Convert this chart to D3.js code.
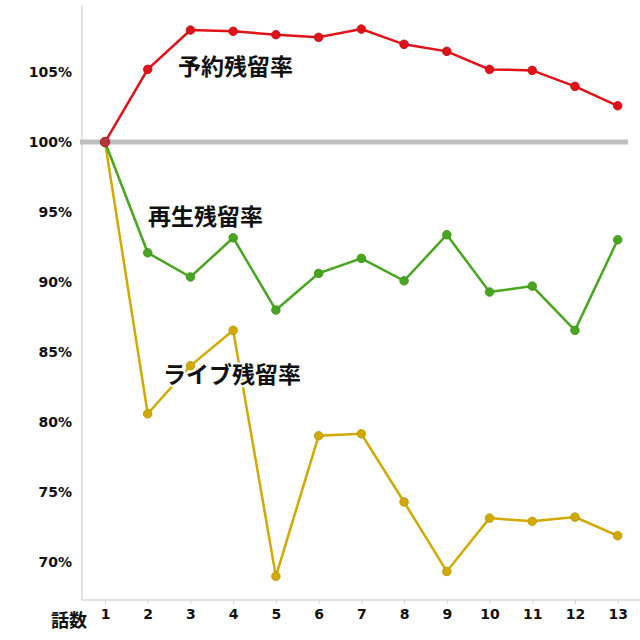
<!DOCTYPE html>
<html><head><meta charset="utf-8">
<script src="https://cdn.jsdelivr.net/npm/d3@7"></script>
<style>body{margin:0;background:#fff}svg{display:block}</style>
</head><body>
<script>
const episodes = [1,2,3,4,5,6,7,8,9,10,11,12,13];
const reserve = [100,105.19,108.0,107.91,107.67,107.48,108.07,106.98,106.48,105.19,105.12,103.98,102.59];
const playback = [100,92.09,90.36,93.16,88.0,90.62,91.69,90.09,93.38,89.29,89.71,86.55,93.02];
const live = [100,80.59,84.02,86.55,68.98,79.02,79.16,74.29,69.33,73.14,72.91,73.21,71.88];
const yTicks = [70,75,80,85,90,95,100,105];
const seriesNames = ["予約残留率","再生残留率","ライブ残留率"];
const xTitle = "話数";

const W=640,H=640;
const svg=d3.select("body").append("svg").attr("width",W).attr("height",H);
const x=d3.scaleLinear().domain([1,13]).range([105,617.7]);
const y=d3.scaleLinear().domain([67.29,109.79]).range([600,5]);
const font="'DejaVu Sans', Verdana, sans-serif";

// axes
const yAxis=svg.append("g").attr("transform","translate(82,0)")
  .call(d3.axisLeft(y).tickValues(yTicks).tickSize(0).tickPadding(10).tickFormat(d=>d+"%"));
yAxis.select(".domain").remove();
yAxis.selectAll("text").attr("font-family",font).attr("font-weight","bold").attr("font-size",14).attr("fill","#111");
svg.append("line").attr("x1",82).attr("x2",82).attr("y1",y.range()[1]).attr("y2",600).attr("stroke","#d9d9d9").attr("stroke-width",1.5);

const xAxis=svg.append("g").attr("transform","translate(0,600)")
  .call(d3.axisBottom(x).tickValues(episodes).tickSize(4).tickPadding(5).tickFormat(d3.format("d")));
xAxis.select(".domain").remove();
xAxis.selectAll("line").attr("stroke","#d0d0d0");
xAxis.selectAll("text").attr("font-family",font).attr("font-weight","bold").attr("font-size",14).attr("fill","#111");
svg.append("line").attr("x1",82).attr("x2",640).attr("y1",600).attr("y2",600).attr("stroke","#d9d9d9").attr("stroke-width",1.5);

svg.append("text").attr("x",69).attr("y",627).attr("text-anchor","middle")
  .attr("font-family","'Noto Sans CJK JP', sans-serif").attr("font-weight","bold").attr("font-size",18).attr("fill","#111").text(xTitle);

// 100% reference line
svg.append("line").attr("x1",80).attr("x2",628).attr("y1",y(100)).attr("y2",y(100))
  .attr("stroke","#bfbfbf").attr("stroke-width",5);

const series=[
  {vals:live,color:"#d1a900",stroke:"#b89400"},
  {vals:playback,color:"#48a520",stroke:"#3d8f1a"},
  {vals:reserve,color:"#e01219",stroke:"#c00d14"}
];
const line=d3.line().x((d,i)=>x(episodes[i])).y(d=>y(d));
series.forEach(s=>{
  svg.append("path").datum(s.vals).attr("d",line).attr("fill","none").attr("stroke",s.color).attr("stroke-width",2.5);
});
series.forEach(s=>{
  svg.append("g").selectAll("circle").data(s.vals).join("circle")
    .attr("cx",(d,i)=>x(episodes[i])).attr("cy",d=>y(d)).attr("r",4.3)
    .attr("fill",s.color).attr("stroke",s.stroke).attr("stroke-width",0.8);
});
// first shared point
svg.append("circle").attr("cx",x(1)).attr("cy",y(100)).attr("r",4.8).attr("fill","#b8343c").attr("stroke","#a02830").attr("stroke-width",0.8);

// labels
const labels=[
  {t:seriesNames[0],x:178,y:75},
  {t:seriesNames[1],x:148,y:225},
  {t:seriesNames[2],x:163,y:383}
];
svg.append("g").selectAll("text").data(labels).join("text")
  .attr("x",d=>d.x).attr("y",d=>d.y).text(d=>d.t)
  .attr("font-family","'Noto Sans CJK JP', sans-serif").attr("font-weight","bold").attr("font-size",23)
  .attr("fill","#111").attr("stroke","#fff").attr("stroke-width",4).attr("paint-order","stroke").attr("stroke-linejoin","round");
</script>
</body></html>
